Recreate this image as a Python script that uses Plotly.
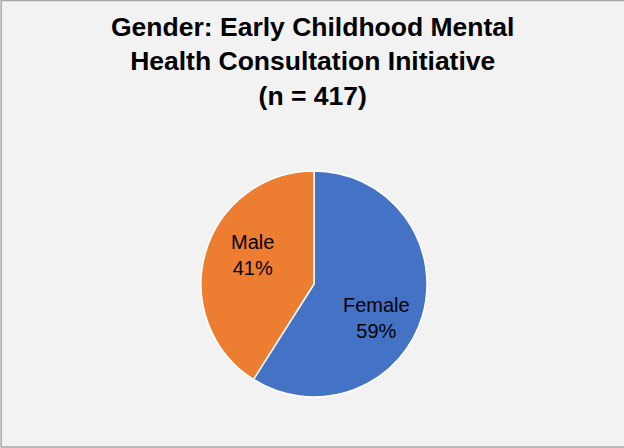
import plotly.graph_objects as go

labels = ["Female", "Male"]
counts = [246, 171]
colors = ["#4472C4", "#ED7D31"]
title_text = "<b>Gender: Early Childhood Mental<br>Health Consultation Initiative<br>(n = 417)</b>"

W, H = 624, 448
cx, cy, r = 314, 284, 113

# label anchor points (pixel positions of the in-slice labels, layout only)
label_pos = {"Female": (376, 318), "Male": (252, 255)}

total = sum(counts)
fig = go.Figure(go.Pie(
    labels=labels,
    values=counts,
    marker=dict(colors=colors, line=dict(color="white", width=1.5)),
    sort=False,
    direction="clockwise",
    rotation=0,
    textinfo="none",
    showlegend=False,
    hoverinfo="skip",
    domain=dict(x=[(cx - r) / W, (cx + r) / W], y=[1 - (cy + r) / H, 1 - (cy - r) / H]),
))

annotations = [dict(
    text=title_text, x=0.5, y=1 - 10 / H, xref="paper", yref="paper",
    xanchor="center", yanchor="top", showarrow=False,
    font=dict(family="Liberation Sans, Arial", size=26.5, color="black"),
)]
for lab, c in zip(labels, counts):
    px, py = label_pos[lab]
    annotations.append(dict(
        text=f"{lab}<br>{round(100 * c / total)}%", x=px / W, y=1 - py / H,
        xref="paper", yref="paper", xanchor="center", yanchor="middle",
        showarrow=False, align="center",
        font=dict(family="Liberation Sans, Arial", size=20, color="black"),
    ))

fig.update_layout(
    width=W, height=H,
    margin=dict(l=0, r=0, t=0, b=0),
    paper_bgcolor="#F2F2F2",
    plot_bgcolor="#F2F2F2",
    annotations=annotations,
    shapes=[dict(type="rect", xref="paper", yref="paper",
                 x0=1.2 / W, x1=1 + 3 / W, y0=1 - 447 / H, y1=1 - 0.5 / H,
                 line=dict(color="#A6A6A6", width=1.5))],
)

fig.write_html("out.html", config={"displayModeBar": False},
               post_script="document.body.style.margin='0';document.body.style.overflow='hidden';")
